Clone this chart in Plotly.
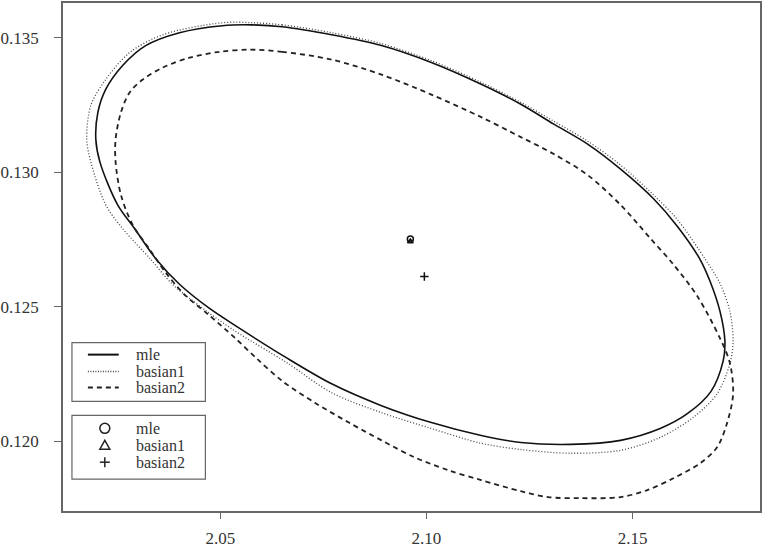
import plotly.graph_objects as go

# ---- data ----
mle_x = [2.0577, 2.0650, 2.0770, 2.0891, 2.1012, 2.1133, 2.1229, 2.1309, 2.1391, 2.1471,
         2.1551, 2.1609, 2.1664, 2.1688, 2.1712, 2.1724, 2.1720, 2.1690, 2.1633, 2.1567,
         2.1471, 2.1350, 2.1229, 2.1133, 2.1012, 2.0891, 2.0770, 2.0657, 2.0546, 2.0473,
         2.0401, 2.0343, 2.0292, 2.0251, 2.0208, 2.0198, 2.0203, 2.0222, 2.0263, 2.0319,
         2.0401, 2.0505]
mle_y = [0.13548, 0.13541, 0.13511, 0.13471, 0.13408, 0.13327, 0.13253, 0.13179, 0.13105, 0.13012,
         0.12902, 0.12799, 0.12676, 0.12595, 0.12484, 0.12373, 0.12300, 0.12185, 0.12103, 0.12048,
         0.12004, 0.11989, 0.11996, 0.12022, 0.12070, 0.12133, 0.12214, 0.12314, 0.12421, 0.12495,
         0.12584, 0.12680, 0.12791, 0.12879, 0.13038, 0.13123, 0.13223, 0.13308, 0.13397, 0.13471,
         0.13519, 0.13545]

b1_x = [2.0577, 2.0650, 2.0770, 2.0891, 2.1012, 2.1133, 2.1229, 2.1309, 2.1391, 2.1471,
        2.1551, 2.1609, 2.1678, 2.1712, 2.1736, 2.1744, 2.1736, 2.1705, 2.1647, 2.1567,
        2.1471, 2.1350, 2.1229, 2.1133, 2.1012, 2.0891, 2.0770, 2.0662, 2.0536, 2.0457,
        2.0384, 2.0329, 2.0263, 2.0222, 2.0186, 2.0176, 2.0186, 2.0222, 2.0280, 2.0360,
        2.0505]
b1_y = [0.13556, 0.13548, 0.13519, 0.13478, 0.13415, 0.13334, 0.13260, 0.13190, 0.13116, 0.13027,
        0.12916, 0.12824, 0.12673, 0.12588, 0.12484, 0.12373, 0.12288, 0.12177, 0.12089, 0.12015,
        0.11967, 0.11956, 0.11970, 0.11993, 0.12048, 0.12107, 0.12181, 0.12292, 0.12410, 0.12495,
        0.12584, 0.12680, 0.12791, 0.12879, 0.13038, 0.13123, 0.13249, 0.13345, 0.13445, 0.13511,
        0.13556]

b2_x = [2.0570, 2.0650, 2.0770, 2.0891, 2.1012, 2.1133, 2.1229, 2.1309, 2.1391, 2.1471,
        2.1543, 2.1599, 2.1657, 2.1712, 2.1736, 2.1744, 2.1729, 2.1705, 2.1664, 2.1599,
        2.1536, 2.1471, 2.1374, 2.1295, 2.1229, 2.1133, 2.1053, 2.0971, 2.0891, 2.0812,
        2.0729, 2.0650, 2.0589, 2.0536, 2.0473, 2.0415, 2.0367, 2.0329, 2.0287, 2.0259,
        2.0246, 2.0246, 2.0259, 2.0280, 2.0312, 2.0360, 2.0425, 2.0498]
b2_y = [0.13456, 0.13448, 0.13419, 0.13363, 0.13289, 0.13205, 0.13131, 0.13068, 0.12990, 0.12879,
        0.12755, 0.12658, 0.12540, 0.12384, 0.12292, 0.12177, 0.12067, 0.11978, 0.11919, 0.11863,
        0.11819, 0.11793, 0.11789, 0.11793, 0.11815, 0.11856, 0.11893, 0.11941, 0.12004, 0.12070,
        0.12144, 0.12225, 0.12307, 0.12384, 0.12469, 0.12543, 0.12628, 0.12713, 0.12806, 0.12916,
        0.13038, 0.13123, 0.13223, 0.13297, 0.13345, 0.13389, 0.13426, 0.13448]

center_names = ["mle", "basian1", "basian2"]
center_x = [2.0961, 2.0961, 2.0995]
center_y = [0.12752, 0.12743, 0.12613]

x_ticks = [2.05, 2.10, 2.15]
x_ticklabels = ["2.05", "2.10", "2.15"]
y_ticks = [0.120, 0.125, 0.130, 0.135]
y_ticklabels = ["0.120", "0.125", "0.130", "0.135"]

# ---- layout geometry ----
W, H = 765, 554
ML, MR, MT, MB = 60, 5, 1, 43
PW, PH = W - ML - MR, H - MT - MB
def px(x):
    return (x - ML) / PW
def py(y):
    return 1 - (y - MT) / PH

FONT = "Liberation Serif"
TXT = "#333333"
AX = "#666666"

def closed(a):
    return list(a) + [a[0]]

fig = go.Figure()
fig.add_trace(go.Scatter(x=closed(mle_x), y=closed(mle_y), mode="lines",
                         line=dict(color="#111111", width=1.6, shape="spline", smoothing=0.9),
                         name="mle", showlegend=False, hoverinfo="skip"))
fig.add_trace(go.Scatter(x=closed(b1_x), y=closed(b1_y), mode="lines",
                         line=dict(color="#444444", width=1.3, dash="1px,2px", shape="spline", smoothing=0.9),
                         name="basian1", showlegend=False, hoverinfo="skip"))
fig.add_trace(go.Scatter(x=closed(b2_x), y=closed(b2_y), mode="lines",
                         line=dict(color="#222222", width=1.8, dash="5px,4px", shape="spline", smoothing=0.9),
                         name="basian2", showlegend=False, hoverinfo="skip"))

symbols = ["circle-open", "triangle-up-open", "cross-thin-open"]
sizes = [6, 5, 6]
for i in range(3):
    fig.add_trace(go.Scatter(x=[center_x[i]], y=[center_y[i]], mode="markers",
                             marker=dict(symbol=symbols[i], size=sizes[i], color="#111111",
                                         line=dict(width=1.5, color="#111111")),
                             name=center_names[i], showlegend=False))

shapes = []
annotations = []
# legend 1 (lines)
shapes.append(dict(type="rect", xref="paper", yref="paper",
                   x0=px(69), x1=px(203), y0=py(401), y1=py(342),
                   line=dict(color=AX, width=1.2), fillcolor="white", layer="above"))
line_styles = [dict(color="#111111", width=2), dict(color="#444444", width=1.5, dash="1px,1.5px"),
               dict(color="#222222", width=1.8, dash="5px,4px")]
rows1 = [354, 371, 387]
for i, r in enumerate(rows1):
    shapes.append(dict(type="line", xref="paper", yref="paper",
                       x0=px(85), x1=px(116), y0=py(r), y1=py(r), line=line_styles[i], layer="above"))
    annotations.append(dict(xref="paper", yref="paper", x=px(131), y=py(r), text=center_names[i],
                            showarrow=False, xanchor="left", yanchor="middle",
                            font=dict(family=FONT, size=16, color=TXT)))
# legend 2 (points)
shapes.append(dict(type="rect", xref="paper", yref="paper",
                   x0=px(69), x1=px(203), y0=py(479), y1=py(415),
                   line=dict(color=AX, width=1.2), fillcolor="white", layer="above"))
rows2 = [428, 445, 462]
cx = 102
sym_line = dict(color="#222222", width=1.5)
shapes.append(dict(type="circle", xref="paper", yref="paper",
                   x0=px(cx - 5), x1=px(cx + 5), y0=py(rows2[0] + 5), y1=py(rows2[0] - 5),
                   line=sym_line, layer="above"))
r = rows2[1]
shapes.append(dict(type="path", xref="paper", yref="paper",
                   path=f"M {px(cx-5)},{py(r+4)} L {px(cx+5)},{py(r+4)} L {px(cx)},{py(r-5)} Z",
                   line=sym_line, layer="above"))
r = rows2[2]
shapes.append(dict(type="line", xref="paper", yref="paper", x0=px(cx - 5), x1=px(cx + 5),
                   y0=py(r), y1=py(r), line=sym_line, layer="above"))
shapes.append(dict(type="line", xref="paper", yref="paper", x0=px(cx), x1=px(cx),
                   y0=py(r - 5), y1=py(r + 5), line=sym_line, layer="above"))
for i, r in enumerate(rows2):
    annotations.append(dict(xref="paper", yref="paper", x=px(131), y=py(r), text=center_names[i],
                            showarrow=False, xanchor="left", yanchor="middle",
                            font=dict(family=FONT, size=16, color=TXT)))

fig.update_layout(
    width=W, height=H,
    margin=dict(l=ML, r=MR, t=MT, b=MB, pad=0),
    paper_bgcolor="white", plot_bgcolor="white",
    showlegend=False,
    shapes=shapes, annotations=annotations,
    font=dict(family=FONT, size=17, color=TXT),
    xaxis=dict(range=[2.01184, 2.18092], tickvals=x_ticks, ticktext=x_ticklabels,
               ticks="outside", ticklen=6, tickwidth=1.2, tickcolor=AX,
               showline=True, mirror=True, linecolor=AX, linewidth=1.6,
               showgrid=False, zeroline=False, ticklabelstandoff=5,
               tickfont=dict(family=FONT, size=17, color=TXT)),
    yaxis=dict(range=[0.117414, 0.136293], tickvals=y_ticks, ticktext=y_ticklabels,
               ticks="outside", ticklen=7, tickwidth=1.2, tickcolor=AX,
               showline=True, mirror=True, linecolor=AX, linewidth=1.6,
               showgrid=False, zeroline=False, ticklabelstandoff=12,
               tickfont=dict(family=FONT, size=17, color=TXT)),
)

fig.write_html("out.html")
